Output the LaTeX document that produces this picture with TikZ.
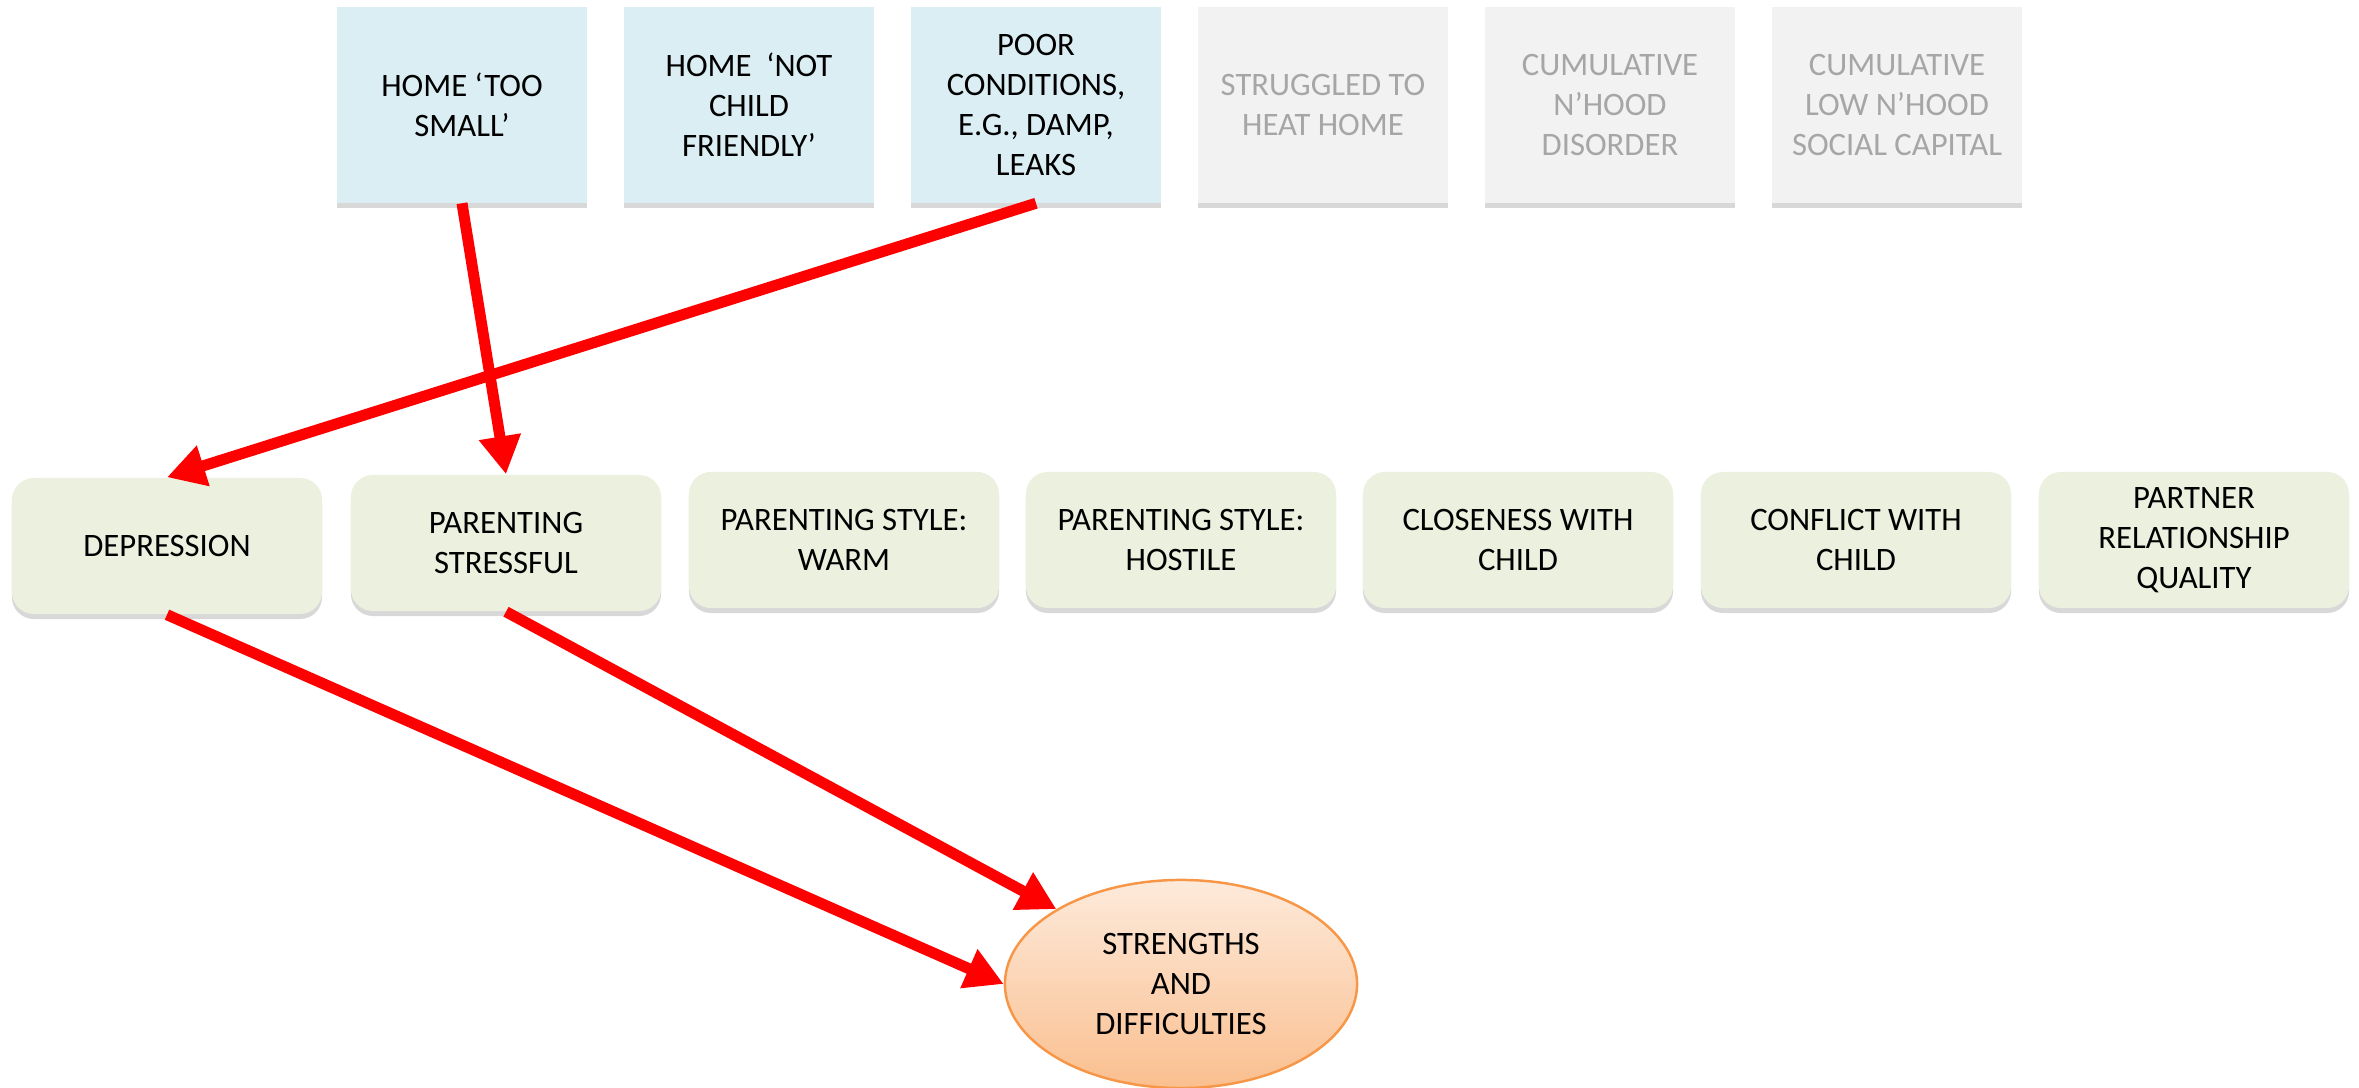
\documentclass[tikz,border=0pt]{standalone}
\usepackage{fontspec}
\setmainfont{Carlito}
\usetikzlibrary{arrows.meta,shapes.geometric,shadows}
\definecolor{topblue}{HTML}{DBEEF4}
\definecolor{topgrey}{HTML}{F2F2F2}
\definecolor{greytext}{HTML}{A6A6A6}
\definecolor{midgreen}{HTML}{EBF0DF}
\definecolor{ellborder}{HTML}{F79646}
\definecolor{elltop}{HTML}{FDEADB}
\definecolor{ellbot}{HTML}{FABF8F}
\tikzset{
  boxshadow/.style={drop shadow={shadow xshift=0pt, shadow yshift=-0.05cm, opacity=0.22, fill=black!70}},
  topbox/.style={rectangle, minimum width=2.5cm, minimum height=1.95cm, inner sep=2pt, align=center, font=\fontsize{9.3}{11.4}\selectfont, boxshadow},
  bluebox/.style={topbox, fill=topblue, text=black},
  greybox/.style={topbox, fill=topgrey, text=greytext},
  midbox/.style={rectangle, rounded corners=0.22cm, minimum width=3.1cm, minimum height=1.36cm, inner sep=2pt, align=center, fill=midgreen, font=\fontsize{9.3}{11.4}\selectfont, boxshadow},
  outcome/.style={ellipse, minimum width=3.52cm, minimum height=2.08cm, inner sep=0pt, draw=ellborder, line width=0.7pt, top color=elltop, bottom color=ellbot, align=center, font=\fontsize{9.3}{11.4}\selectfont},
  redarrow/.style={draw=red, line width=0.11cm, -{Triangle[length=0.38cm, width=0.40cm]}, red}
}
\begin{document}
\begin{tikzpicture}[x=0.01cm, y=-0.01cm]
\useasboundingbox (0,0) rectangle (2359,1088);
% top row
\node[bluebox] (b1) at (462,105) {HOME ‘TOO\\SMALL’};
\node[bluebox] (b2) at (749,105) {HOME~ ‘NOT\\CHILD\\FRIENDLY’};
\node[bluebox] (b3) at (1036,105) {POOR\\CONDITIONS,\\E.G., DAMP,\\LEAKS};
\node[greybox] (b4) at (1323,105) {STRUGGLED TO\\HEAT HOME};
\node[greybox] (b5) at (1610,105) {CUMULATIVE\\N’HOOD\\DISORDER};
\node[greybox] (b6) at (1897,105) {CUMULATIVE\\LOW N’HOOD\\SOCIAL CAPITAL};
% middle row
\node[midbox] (dep) at (167,546) {DEPRESSION};
\node[midbox] (stress) at (506,543) {PARENTING\\STRESSFUL};
\node[midbox] (warm) at (844,540) {PARENTING STYLE:\\WARM};
\node[midbox] (hostile) at (1181,540) {PARENTING STYLE:\\HOSTILE};
\node[midbox] (close) at (1518,540) {CLOSENESS WITH\\CHILD};
\node[midbox] (conflict) at (1856,540) {CONFLICT WITH\\CHILD};
\node[midbox] (partner) at (2194,540) {PARTNER\\RELATIONSHIP\\QUALITY};
% outcome
\node[outcome] (sdq) at (1181,984) {STRENGTHS\\AND\\DIFFICULTIES};
% arrows
\draw[redarrow] (b1.south) -- (stress.north);
\draw[redarrow] (b3.south) -- (dep.north);
\draw[redarrow] (dep.south) -- (sdq.west);
\draw[redarrow] (stress.south) -- (sdq.149);
\end{tikzpicture}
\end{document}
